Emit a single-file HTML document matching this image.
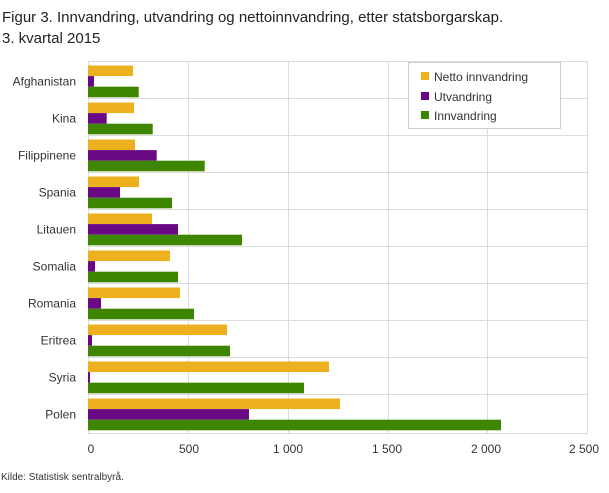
<!DOCTYPE html>
<html><head><meta charset="utf-8"><style>
body{margin:0;background:#fff;width:609px;height:488px;overflow:hidden;font-family:"Liberation Sans",sans-serif}
</style></head><body>
<svg width="609" height="488" xmlns="http://www.w3.org/2000/svg" font-family="Liberation Sans, sans-serif">
<text x="2" y="22" font-size="15" fill="#222">Figur 3. Innvandring, utvandring og nettoinnvandring, etter statsborgarskap.</text>
<text x="2" y="43" font-size="15" fill="#222">3. kvartal 2015</text>
<g stroke="#dcdcdc" stroke-width="1">
<line x1="188.5" y1="61" x2="188.5" y2="433"/>
<line x1="288.5" y1="61" x2="288.5" y2="433"/>
<line x1="388.5" y1="61" x2="388.5" y2="433"/>
<line x1="487.5" y1="61" x2="487.5" y2="433"/>
<line x1="587.5" y1="61" x2="587.5" y2="433"/>
<line x1="88" y1="61.5" x2="588" y2="61.5"/>
<line x1="88" y1="98.5" x2="588" y2="98.5"/>
<line x1="88" y1="135.5" x2="588" y2="135.5"/>
<line x1="88" y1="172.5" x2="588" y2="172.5"/>
<line x1="88" y1="209.5" x2="588" y2="209.5"/>
<line x1="88" y1="246.5" x2="588" y2="246.5"/>
<line x1="88" y1="283.5" x2="588" y2="283.5"/>
<line x1="88" y1="320.5" x2="588" y2="320.5"/>
<line x1="88" y1="357.5" x2="588" y2="357.5"/>
<line x1="88" y1="394.5" x2="588" y2="394.5"/>
<line x1="88" y1="433.5" x2="588" y2="433.5"/>
<line x1="88.5" y1="61" x2="88.5" y2="433"/>
</g>
<g id="bars"></g>
<g font-size="12" fill="#333" text-anchor="end" id="labels"></g>
<g font-size="12" fill="#333" text-anchor="middle">
<text x="91" y="453">0</text><text x="189" y="453">500</text><text x="288" y="453">1 000</text>
<text x="387" y="453">1 500</text><text x="486" y="453">2 000</text><text x="584" y="453">2 500</text>
</g>
<text x="1" y="480" font-size="10" fill="#333">Kilde: Statistisk sentralbyrå.</text>
<rect x="408.5" y="62.5" width="152" height="66" fill="#fff" stroke="#ccc"/>
<rect x="421" y="72" width="8" height="8" fill="#EDB120"/>
<rect x="421" y="92" width="8" height="8" fill="#6A0885"/>
<rect x="421" y="111" width="8" height="8" fill="#3E8500"/>
<g font-size="12" fill="#333">
<text x="434" y="81">Netto innvandring</text><text x="434" y="101">Utvandring</text><text x="434" y="120">Innvandring</text>
</g>
<script>
var d=[["Afghanistan",133,94,138.7],["Kina",134,106.7,152.7],["Filippinene",135,156.7,204.7],["Spania",139,120,172],["Litauen",152,178,242],["Somalia",170,95,178],["Romania",180,101,194],["Eritrea",227,92,230],["Syria",329,90,304],["Polen",340,249,501]];
var cols=["#EDB120","#6A0885","#3E8500"],ns="http://www.w3.org/2000/svg";
var b=document.getElementById("bars"),l=document.getElementById("labels");
d.forEach(function(r,i){var top=62+i*37+3.5;
for(var k=0;k<3;k++){var e=document.createElementNS(ns,"rect");e.setAttribute("x",88);e.setAttribute("y",top+k*10.6);e.setAttribute("width",r[k+1]-88);e.setAttribute("height",10.6);e.setAttribute("fill",cols[k]);b.appendChild(e);}
var t=document.createElementNS(ns,"text");t.setAttribute("x",76);t.setAttribute("y",top+20);t.textContent=r[0];l.appendChild(t);});
</script>
</svg>
</body></html>
